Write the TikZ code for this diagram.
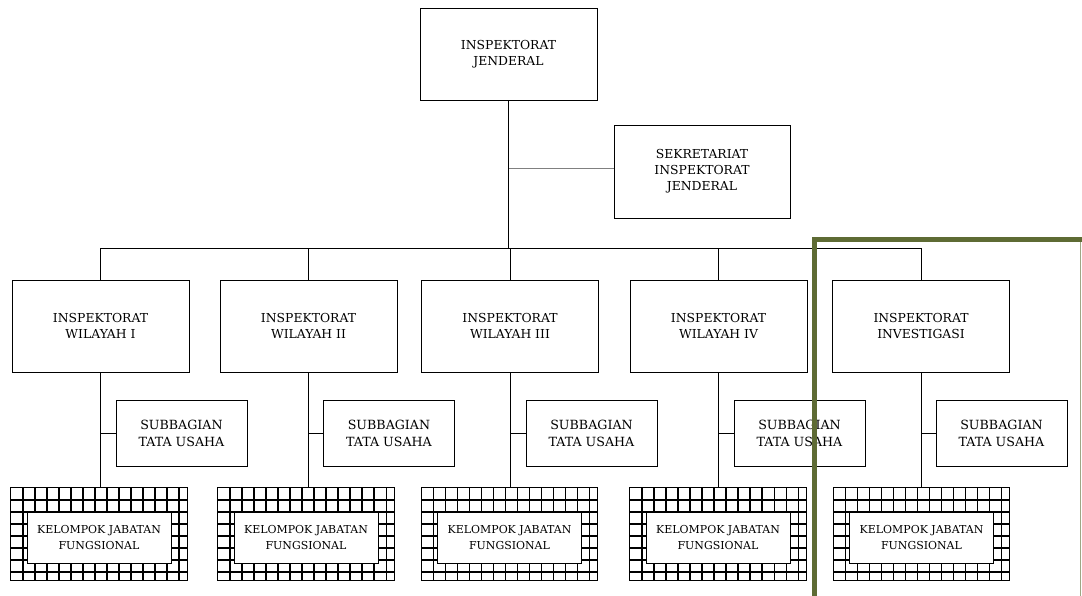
\documentclass[tikz,border=0pt]{standalone}
\usepackage{fontspec}
\setmainfont{DejaVu Serif}
\usetikzlibrary{positioning,calc}
\definecolor{olivefrm}{RGB}{94,107,52}
\tikzset{
  unitbox/.style={draw, line width=0.6pt, align=center, inner sep=0pt,
    font=\fontsize{8.8}{11.5}\selectfont},
  headbox/.style={unitbox, minimum width=4.425cm, minimum height=2.3cm},
  subbox/.style={unitbox, minimum width=3.275cm, minimum height=1.65cm,
    font=\fontsize{9}{12}\selectfont},
  gridbox/.style={draw, line width=0.7pt, minimum width=4.4cm, minimum height=2.3cm,
    path picture={
      \foreach \i in {1,...,14}
        \draw[line width=0.75pt] ($(path picture bounding box.north west)+(\i*0.3cm,0cm)$) -- ++(0cm,-2.4cm);
      \foreach \j in {1,...,7}
        \draw[line width=0.75pt] ($(path picture bounding box.north west)+(0cm,-\j*0.3cm)$) -- ++(4.5cm,0cm);
    }},
  kjfbox/.style={unitbox, fill=white, minimum width=3.6cm, minimum height=1.275cm,
    font=\fontsize{7.8}{12}\selectfont},
  link/.style={line width=0.6pt},
}
\begin{document}
\begin{tikzpicture}[x=0.025cm, y=-0.025cm]
\useasboundingbox (0,0) rectangle (1082,596);
% Top level
\node[headbox] (boss) at (508.5,54) {INSPEKTORAT\\JENDERAL};
\node[headbox, minimum width=4.4cm, minimum height=2.325cm] (sek) at (702,171.5)
  {SEKRETARIAT\\INSPEKTORAT\\JENDERAL};
\coordinate (bus) at (510,248);
\coordinate (sekin) at ($(sek.west)+(0,-3.5)$);
\draw[link] (boss.south) -- (boss.south |- bus);
\draw[line width=0.7pt, gray] (sekin) -- (sekin -| boss.south);
% Units
\foreach \n/\wx/\sx/\kx/\lbl in {1/100.5/181.5/99/WILAYAH I, 2/308.5/389/306/WILAYAH II,
    3/510/591.5/509.5/WILAYAH III, 4/718.5/799.5/718/WILAYAH IV,
    5/921/1001.5/921.5/INVESTIGASI}{
  \node[headbox] (w\n) at (\wx,326) {INSPEKTORAT\\\lbl};
  \node[subbox] (s\n) at (\sx,433) {SUBBAGIAN\\TATA USAHA};
  \node[gridbox] (k\n) at (\kx,534) {};
  \node[kjfbox] (ki\n) at ($(k\n.center)+(0,3.5)$) {KELOMPOK JABATAN\\FUNGSIONAL};
  \draw[link] (w\n.north) -- (w\n.north |- bus);
  \draw[link] (w\n.south) -- (w\n.south |- k\n.north);
  \draw[link] (s\n.west) -- (s\n.west -| w\n.south);
}
\draw[link] (w1.north |- bus) -- (w5.north |- bus);
% Highlight frame
\draw[olivefrm, line width=3.5pt] (814.5,600) -- (814.5,239.5) -- (1082,239.5);
\draw[olivefrm!60, line width=0.6pt] (1080.5,242) -- (1080.5,600);
\end{tikzpicture}
\end{document}
